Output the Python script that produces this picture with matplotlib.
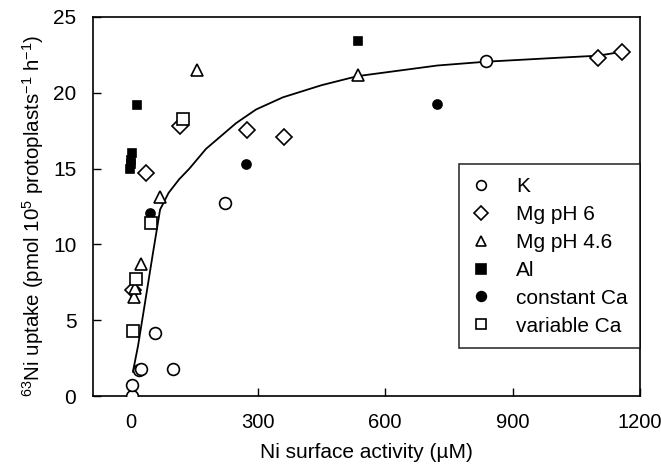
import matplotlib
matplotlib.use("Agg")
import matplotlib.pyplot as plt

plt.rcParams['font.family'] = ['Liberation Sans', 'DejaVu Sans']
plt.rcParams['mathtext.default'] = 'regular'

# Data
k_x = [5, 5, 20, 26, 100, 57, 223, 837]
k_y = [0.0, 0.7, 1.7, 1.75, 1.8, 4.15, 12.7, 22.1]

mg6_x = [6, 37, 118, 275, 361, 1102, 1157]
mg6_y = [7.0, 14.7, 17.8, 17.55, 17.1, 22.3, 22.7]

mg46_x = [8, 10, 25, 69, 157, 535]
mg46_y = [6.5, 7.1, 8.7, 13.1, 21.5, 21.2]

al_x = [0, 1, 2, 3, 16, 535]
al_y = [15.0, 15.3, 15.6, 16.0, 19.2, 23.4]

cca_x = [47, 272, 722]
cca_y = [12.1, 15.3, 19.25]

vca_x = [6, 14, 49, 123]
vca_y = [4.3, 7.7, 11.4, 18.3]

fit_x = [6, 18, 33, 53, 70, 90, 115, 139, 178, 249, 296, 359, 450, 535, 723, 837, 1000, 1102, 1157]
fit_y = [1.6, 3.3, 5.9, 9.4, 12.3, 13.4, 14.3, 15.0, 16.3, 18.0, 18.9, 19.7, 20.5, 21.1, 21.8, 22.05, 22.3, 22.45, 22.7]

xticks = [0, 300, 600, 900, 1200]
yticks = [0, 5, 10, 15, 20, 25]

fig = plt.figure(figsize=(6.61, 4.72), dpi=100)
ax = fig.add_axes([0.1407, 0.161, 0.8275, 0.803])

ax.plot(fit_x, fit_y, color='black', lw=1.3, zorder=1)
mew = 1.2
ax.plot(k_x, k_y, 'o', ms=8.5, mfc='white', mec='black', mew=mew, label='K', zorder=3)
ax.plot(mg6_x, mg6_y, 'D', ms=8, mfc='white', mec='black', mew=mew, label='Mg pH 6', zorder=3)
ax.plot(mg46_x, mg46_y, '^', ms=9, mfc='white', mec='black', mew=mew, label='Mg pH 4.6', zorder=3)
ax.plot(al_x, al_y, 's', ms=6, mfc='black', mec='black', mew=mew, label='Al', zorder=3)
ax.plot(cca_x, cca_y, 'o', ms=6.5, mfc='black', mec='black', mew=mew, label='constant Ca', zorder=3)
ax.plot(vca_x, vca_y, 's', ms=8.5, mfc='white', mec='black', mew=mew, label='variable Ca', zorder=3)

ax.set_xlim(-88, 1192)
ax.set_ylim(0, 25)
ax.set_xticks(xticks)
ax.set_yticks(yticks)
ax.tick_params(direction='in', length=6, width=1.0)
ax.tick_params(axis='y', pad=12, labelsize=15)
ax.tick_params(axis='x', pad=12, labelsize=14.5)
for s in ax.spines.values():
    s.set_linewidth(1.2)

ax.set_xlabel('Ni surface activity (µM)', fontsize=15, labelpad=8)
ax.set_ylabel('$^{63}$Ni uptake (pmol 10$^{5}$ protoplasts$^{-1}$ h$^{-1}$)', fontsize=14.8)
ax.yaxis.set_label_coords(-0.086, 0.475)

leg = ax.legend(loc='upper right', bbox_to_anchor=(1.0, 0.611), fontsize=15, frameon=True,
                fancybox=False, edgecolor='black', borderpad=0.6, labelspacing=0.43,
                handletextpad=1.15, handlelength=1.0, borderaxespad=0)
leg.get_frame().set_linewidth(1.2)
for h in leg.legend_handles:
    h.set_markersize(7)

fig.savefig('out.png', dpi=100)
